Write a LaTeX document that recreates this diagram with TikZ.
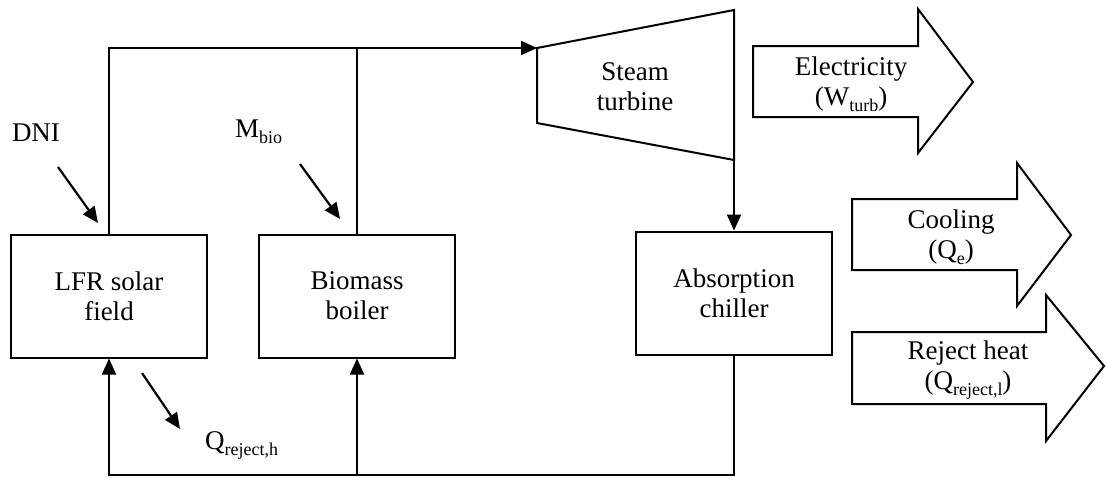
\documentclass[tikz,border=0pt]{standalone}
\usepackage{fontspec}
\setmainfont{Liberation Serif}
\usetikzlibrary{arrows.meta}
\newcommand{\sbs}[1]{\raisebox{-0.22em}{\fontsize{18}{18}\selectfont #1}}
\begin{document}
\begin{tikzpicture}[x=1pt,y=-1pt,
  every node/.style={font=\fontsize{27}{30}\selectfont, inner sep=0pt},
  unit/.style={draw, line width=2pt, minimum width=196pt, minimum height=123pt, align=center},
  flow/.style={line width=2pt},
  arr/.style={flow, -{Triangle[length=16pt,width=14pt]}},
  side/.style={line width=2.2pt, -{Triangle[length=16pt,width=14pt]}},
  big/.style={draw, line width=2pt, line join=miter, fill=white},
  lbl/.style={align=center}]
\useasboundingbox (0,0) rectangle (1107,477);
% units
\node[unit] (lfr) at (109,296) {LFR solar\\field};
\node[unit] (bio) at (357,296) {Biomass\\boiler};
\node[unit] (chl) at (734,293) {Absorption\\chiller};
% turbine
\coordinate (tin) at (537,48);
\coordinate (tout) at (734,160);
\draw[flow, line join=miter] (tin) -- (734,10) -- (tout) -- (537,123) -- cycle;
\node[lbl] (tur) at (635,87) {Steam\\turbine};
% junction coordinates
\coordinate (tl) at (lfr.north |- tin);
\coordinate (tj) at (bio.north |- tin);
\coordinate (bl) at (lfr.south |- 0,475);
\coordinate (bj) at (bio.south |- 0,475);
\coordinate (br) at (chl.south |- 0,475);
% main loop
\draw[arr] (lfr.north) -- (tl) -- (tin);
\draw[flow] (bio.north) -- (tj);
\draw[arr] (tout) -- (chl.north);
\draw[arr] (chl.south) -- (br) -- (bl) -- (lfr.south);
\draw[arr] (bj) -- (bio.south);
% inputs / outputs
\node (dni) at (36,133) {DNI};
\node[anchor=west] (mbio) at (235,132) {M\sbs{bio}};
\node[anchor=west] (qrh) at (205,445) {Q\sbs{reject,h}};
\coordinate (d1) at (58,167); \coordinate (d2) at (98,223);
\coordinate (m1) at (300,164); \coordinate (m2) at (340,219);
\coordinate (q1) at (142,373); \coordinate (q2) at (180,429);
\draw[side] (d1) -- (d2);
\draw[side] (m1) -- (m2);
\draw[side] (q1) -- (q2);
% block arrows
\draw[big] (753,46) -- (918,46) -- (918,9) -- (973,82) -- (918,153) -- (918,117) -- (753,117) -- cycle;
\node[lbl] (ele) at (851,84) {Electricity\\(W\sbs{turb})};
\draw[big] (852,199) -- (1017,199) -- (1017,163) -- (1071,235) -- (1017,306) -- (1017,270) -- (852,270) -- cycle;
\node[lbl] (col) at (951,237) {Cooling\\(Q\sbs{e})};
\draw[big] (852,332) -- (1046,332) -- (1046,295) -- (1104,366) -- (1046,441) -- (1046,404) -- (852,404) -- cycle;
\node[lbl] (rej) at (968,370) {Reject heat\\(Q\sbs{reject,l})};
\end{tikzpicture}
\end{document}
